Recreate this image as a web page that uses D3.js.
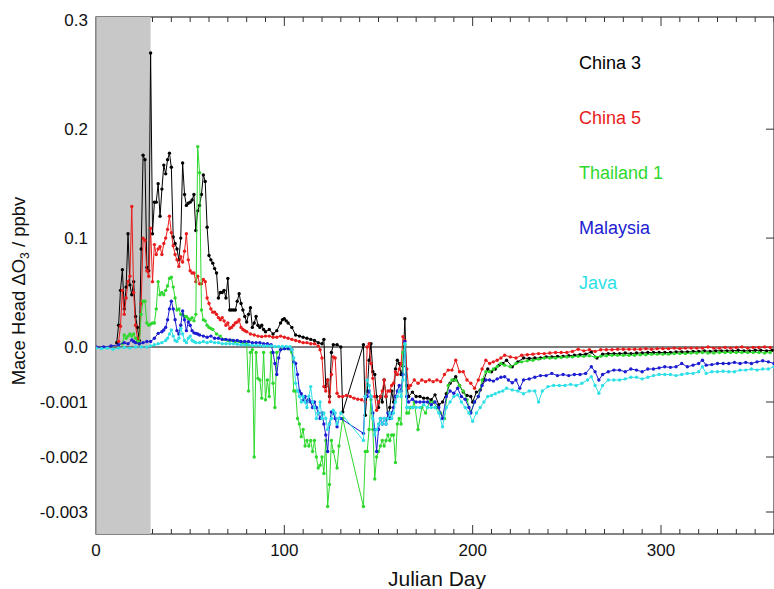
<!DOCTYPE html>
<html lang="en">
<head>
<meta charset="UTF-8">
<title>Mace Head ΔO3</title>
<script src="https://d3js.org/d3.v7.min.js"></script>
<style>
    body {
        margin: 0;
        background: white;
        font-family: Arial, "Liberation Sans", sans-serif;
    }
</style>
</head>
<body>
<div id="chart"></div>
<script>
// [julian day, ΔO3] pairs
const china3 = [[11,0.004],[12,0.02],[13,0.052],[14,0.071],[15,0.035],[16,0.055],[17,0.104],[18,0.057],[19,0.048],[20,0.06],[21,0.028],[22,0.018],[23,0.006],[24,0.09],[25,0.176],[26,0.172],[27,0.073],[28,0.07],[29,0.27],[30,0.104],[31,0.133],[32,0.133],[33,0.15],[34,0.12],[35,0.145],[36,0.167],[37,0.159],[38,0.172],[39,0.178],[40,0.165],[41,0.101],[42,0.095],[43,0.09],[44,0.08],[45,0.1],[46,0.169],[47,0.14],[48,0.13],[49,0.132],[50,0.133],[51,0.135],[52,0.14],[53,0.107],[54,0.125],[55,0.13],[56,0.14],[57,0.158],[58,0.152],[59,0.11],[60,0.084],[61,0.08],[62,0.077],[63,0.072],[64,0.068],[65,0.045],[66,0.05],[67,0.05],[68,0.052],[69,0.045],[70,0.063],[71,0.034],[72,0.034],[73,0.034],[74,0.034],[75,0.042],[76,0.049],[77,0.04],[78,0.034],[79,0.028],[80,0.023],[81,0.03],[82,0.036],[83,0.018],[84,0.022],[85,0.028],[86,0.02],[87,0.018],[88,0.02],[89,0.016],[90,0.014],[92,0.016],[94,0.012],[96,0.015],[98,0.022],[99,0.025],[100,0.026],[101,0.024],[102,0.022],[104,0.018],[106,0.011],[108,0.01],[110,0.009],[112,0.008],[114,0.007],[116,0.006],[118,0.004],[120,0.003],[121,0.007],
    [122,-0.00072],[123,-0.0006],[124,-0.0009],[125,-0.0001],[126,0.002],[128,0.002],[130,0.0],[131,-0.00118],[142,0.002],[143,-0.00124],[144,-0.0008],[145,-0.00024],[146,0.003],[147,-0.00045],[148,-0.0005],[149,-0.0009],[150,-0.0011],[151,-0.0009],[152,-0.001],[153,-0.0006],[154,-0.0009],[155,-0.0013],[156,-0.0011],[157,-0.0008],[158,-0.001],[159,-0.0004],[160,-0.00024],[161,-0.0003],[162,-0.0005],[163,-0.00035],[164,0.026],[165,-0.0007],[166,-0.0009],[168,-0.00082],[170,-0.0009],[172,-0.0009],[174,-0.00093],[176,-0.00093],[178,-0.00096],[180,-0.00087],[182,-0.00105],[184,-0.001],[186,-0.00085],[188,-0.00066],[190,-0.0006],[191,-0.00054],[193,-0.0007],[195,-0.00082],[197,-0.00088],[199,-0.0009],[200,-0.001],[202,-0.00082],[204,-0.00078],[206,-0.0006],[208,-0.0004],[210,-0.00045],[212,-0.0004],[214,-0.00033],[216,-0.0003],[218,-0.00024],[221,-0.00036],[224,-0.00027],[227,-0.0002],[230,-0.00021],[233,-0.0002],[236,-0.0002],[239,-0.00018],[242,-0.00018],[245,-0.00017],[248,-0.00017],[251,-0.00016],[254,-0.00015],[257,-0.00014],[260,-0.00013],[263,-0.00009],[266,-0.0002],[269,-0.00013],[272,-0.00012],[275,-0.00012],[278,-0.00012],[281,-0.00011],[284,-0.00012],[287,-0.00011],[290,-0.00011],[293,-0.0001],[296,-0.0001],[299,-0.0001],[302,-0.0001],[305,-0.0001],[308,-0.00009],[311,-0.00009],[314,-0.00009],[317,-0.00008],[320,-0.00008],[323,-0.00007],[326,-0.00008],[329,-0.00007],[332,-0.00007],[335,-0.00007],[338,-0.00007],[341,-0.00006],[344,-0.00007],[347,-0.00007],[350,-0.00006],[353,-0.00006],[356,-0.00007],[359,-0.00006]];

const china5 = [[12,0.005],[13,0.019],[14,0.052],[15,0.03],[16,0.045],[17,0.06],[18,0.065],[19,0.129],[20,0.05],[21,0.02],[22,0.008],[23,0.003],[24,0.04],[25,0.1],[26,0.098],[27,0.07],[28,0.065],[29,0.109],[30,0.06],[31,0.094],[32,0.085],[33,0.09],[34,0.092],[35,0.085],[36,0.095],[37,0.1],[38,0.108],[39,0.12],[40,0.105],[41,0.093],[42,0.085],[43,0.08],[44,0.074],[45,0.083],[46,0.078],[47,0.088],[48,0.104],[49,0.08],[50,0.07],[51,0.068],[52,0.068],[53,0.06],[54,0.065],[55,0.058],[56,0.058],[57,0.062],[58,0.06],[59,0.045],[60,0.04],[61,0.035],[62,0.032],[63,0.032],[64,0.03],[65,0.027],[66,0.025],[67,0.027],[68,0.024],[69,0.02],[70,0.022],[71,0.017],[72,0.018],[73,0.02],[74,0.022],[75,0.023],[76,0.025],[77,0.018],[78,0.016],[79,0.015],[80,0.014],[82,0.012],[84,0.011],[86,0.01],[88,0.0095],[90,0.01],[92,0.01],[94,0.009],[96,0.009],[98,0.01],[100,0.009],[102,0.008],[104,0.007],[106,0.006],[108,0.005],[110,0.004],[112,0.004],[114,0.003],[116,0.003],[118,0.001],
    [119,-0.00005],[120,-0.0002],[121,-0.00072],[122,-0.0008],[123,-0.0006],[124,-0.001],[125,-0.0005],[126,-0.00018],[127,-0.0002],[128,-0.00084],[129,-0.0009],[131,-0.0009],[133,-0.00088],[135,-0.0009],[137,-0.00093],[139,-0.00095],[141,-0.00096],[143,-0.001],[144,0.0],[145,0.003],[146,-0.0003],[147,-0.00057],[148,-0.0009],[149,-0.00115],[150,-0.001],[151,-0.0009],[152,-0.0008],[153,-0.0006],[154,-0.0009],[155,-0.0008],[156,-0.0008],[157,-0.0007],[158,-0.00066],[159,-0.00045],[160,-0.0005],[161,-0.0004],[162,-0.0003],[163,0.0095],[164,0.006],[165,-0.0004],[166,-0.00075],[167,-0.0007],[169,-0.0006],[171,-0.00066],[173,-0.0006],[175,-0.00063],[177,-0.0006],[179,-0.00063],[181,-0.0006],[183,-0.00063],[185,-0.0005],[187,-0.00042],[189,-0.00042],[191,-0.00024],[193,-0.00045],[195,-0.00045],[197,-0.0006],[199,-0.00066],[201,-0.00075],[203,-0.0006],[205,-0.0004],[207,-0.00024],[209,-0.0003],[211,-0.00027],[213,-0.00024],[215,-0.0002],[217,-0.00015],[220,-0.00018],[223,-0.0002],[226,-0.00015],[229,-0.00014],[232,-0.00013],[235,-0.00012],[238,-0.00012],[241,-0.00011],[244,-0.0001],[247,-0.0001],[250,-0.0001],[253,-0.00008],[256,-0.00004],[259,-0.00007],[262,-0.00005],[265,-0.00008],[268,-0.00005],[271,-0.00005],[274,-0.00005],[277,-0.00004],[280,-0.00004],[283,-0.00004],[286,-0.00004],[289,-0.00004],[292,-0.00003],[295,-0.00004],[298,-0.00003],[301,-0.00003],[304,-0.00003],[307,-0.00002],[310,-0.00003],[313,-0.00002],[316,-0.00002],[319,-0.00002],[322,-0.00002],[325,0.0],[328,-0.00002],[331,-0.00002],[334,-0.00001],[337,-0.00002],[340,-0.00001],[343,0.0],[346,-0.00002],[349,-0.00001],[352,-0.00001],[355,0.0],[358,-0.00001]];

const thailand1 = [[14,0.003],[15,0.011],[16,0.008],[17,0.01],[18,0.012],[19,0.01],[20,0.012],[21,0.008],[22,0.005],[23,0.003],[24,0.03],[25,0.042],[26,0.042],[27,0.022],[28,0.02],[29,0.021],[30,0.022],[31,0.022],[32,0.035],[33,0.06],[34,0.048],[35,0.05],[36,0.048],[37,0.052],[38,0.056],[39,0.063],[40,0.064],[41,0.055],[42,0.045],[43,0.034],[44,0.035],[45,0.03],[46,0.03],[47,0.028],[48,0.028],[49,0.026],[50,0.025],[51,0.027],[52,0.024],[53,0.03],[54,0.184],[55,0.16],[56,0.034],[57,0.025],[58,0.024],[59,0.02],[60,0.018],[61,0.017],[62,0.016],[64,0.012],[66,0.01],[68,0.007],[70,0.006],[72,0.006],[74,0.005],[76,0.005],[78,0.004],[80,0.003],
    [81,-0.0008],[82,-0.0001],[83,-0.00005],[84,-0.002],[85,-0.0001],[86,-0.00057],[87,-0.0006],[88,-0.00093],[89,-0.0001],[90,-0.00096],[91,-0.0006],[92,-0.0009],[93,-0.0001],[94,-0.00066],[95,-0.0011],[96,-0.0001],[98,-0.00005],[100,-0.00003],[102,-0.00003],[104,-0.0001],[105,-0.0008],[106,-0.0008],[107,-0.0013],[108,-0.0014],[109,-0.00163],[110,-0.0015],[111,-0.0018],[112,-0.0017],[113,-0.0018],[114,-0.0017],[115,-0.0019],[116,-0.0017],[117,-0.002],[118,-0.0022],[119,-0.00215],[120,-0.002],[121,-0.0023],[122,-0.0017],[123,-0.0029],[124,-0.0025],[125,-0.0017],[126,-0.0019],[128,-0.0022],[129,-0.0018],[131,-0.0013],[142,-0.0029],[143,-0.0019],[144,-0.0019],[145,-0.0015],[146,-0.00096],[147,-0.0015],[148,-0.0024],[149,-0.002],[150,-0.0019],[151,-0.0018],[152,-0.0017],[153,-0.0018],[154,-0.0017],[155,-0.0016],[156,-0.0017],[157,-0.0016],[158,-0.0016],[159,-0.0021],[160,-0.0014],[161,-0.0013],[162,-0.0014],[163,-0.0001],[164,0.002],[165,-0.0012],[166,-0.0012],[167,-0.0011],[168,-0.0011],[169,-0.001],[171,-0.0015],[173,-0.0011],[175,-0.0012],[177,-0.001],[179,-0.001],[181,-0.0011],[183,-0.0012],[185,-0.0013],[187,-0.0007],[189,-0.0006],[191,-0.0006],[193,-0.0007],[195,-0.0008],[197,-0.00096],[199,-0.00118],[201,-0.001],[203,-0.0009],[205,-0.0006],[207,-0.00045],[209,-0.00045],[211,-0.0004],[213,-0.00036],[215,-0.0003],[217,-0.00033],[220,-0.00036],[223,-0.0003],[226,-0.00027],[229,-0.00025],[232,-0.00024],[235,-0.00022],[238,-0.0002],[241,-0.0002],[244,-0.0002],[247,-0.00019],[250,-0.00018],[253,-0.00018],[256,-0.00017],[259,-0.00017],[262,-0.00016],[265,-0.00018],[268,-0.00017],[271,-0.00016],[274,-0.00015],[277,-0.00015],[280,-0.00015],[283,-0.00015],[286,-0.00015],[289,-0.00014],[292,-0.00014],[295,-0.00013],[298,-0.00013],[301,-0.00013],[304,-0.00013],[307,-0.00012],[310,-0.00012],[313,-0.00012],[316,-0.00011],[319,-0.00011],[322,-0.0001],[325,-0.00011],[328,-0.00011],[331,-0.0001],[334,-0.0001],[337,-0.0001],[340,-0.0001],[343,-0.0001],[346,-0.0001],[349,-0.0001],[352,-0.0001],[355,-0.00011],[358,-0.0001]];

const malaysia = [[0,0.0],[4,0.0],[8,0.001],[12,0.002],[15,0.004],[17,0.003],[19,0.0065],[20,0.005],[21,0.004],[23,0.003],[25,0.004],[27,0.005],[29,0.005],[31,0.008],[33,0.0125],[35,0.014],[36,0.0156],[37,0.018],[38,0.025],[39,0.035],[40,0.042],[41,0.035],[42,0.025],[43,0.015],[44,0.012],[45,0.02],[46,0.033],[47,0.025],[48,0.015],[49,0.023],[50,0.02],[51,0.015],[52,0.013],[53,0.0125],[54,0.012],[55,0.011],[57,0.01],[59,0.009],[61,0.01],[63,0.008],[65,0.008],[67,0.007],[69,0.007],[71,0.0064],[73,0.006],[75,0.006],[77,0.005],[79,0.005],[81,0.005],[83,0.004],[85,0.004],[87,0.004],[89,0.003],[91,0.003],[93,0.002],
    [94,-0.0001],[95,-0.0003],[96,-0.0005],[97,-0.0002],[98,-0.00005],[100,-0.00003],[102,-0.00003],[104,-0.00005],[105,-0.00027],[106,-0.0003],[107,-0.0005],[108,-0.0008],[109,-0.00085],[110,-0.00096],[111,-0.0009],[112,-0.001],[113,-0.00095],[114,-0.001],[115,-0.0011],[116,-0.001],[117,-0.0011],[118,-0.0012],[119,-0.0013],[120,-0.0012],[121,-0.0014],[122,-0.0016],[123,-0.0019],[124,-0.0014],[125,-0.00118],[126,-0.0012],[127,-0.0013],[128,-0.00145],[129,-0.0013],[130,-0.0013],[142,-0.00157],[143,-0.0009],[144,-0.0009],[145,-0.0008],[146,-0.0009],[147,-0.0012],[148,-0.0015],[149,-0.0019],[150,-0.0015],[151,-0.0013],[152,-0.0014],[153,-0.0013],[154,-0.0014],[155,-0.0012],[156,-0.0013],[157,-0.0012],[158,-0.0011],[159,-0.0009],[160,-0.0008],[161,-0.0007],[162,-0.0008],[163,-0.0005],[164,0.005],[165,-0.0009],[166,-0.001],[168,-0.00095],[170,-0.001],[172,-0.001],[174,-0.001],[176,-0.001],[178,-0.00105],[180,-0.001],[182,-0.0011],[184,-0.0013],[186,-0.0009],[188,-0.0008],[190,-0.00084],[192,-0.00075],[194,-0.0009],[196,-0.00095],[198,-0.0011],[199,-0.0012],[201,-0.001],[203,-0.0009],[205,-0.0007],[207,-0.0006],[209,-0.0006],[211,-0.00062],[213,-0.00058],[215,-0.00055],[217,-0.00054],[219,-0.0006],[221,-0.00065],[223,-0.0006],[225,-0.00075],[227,-0.0006],[230,-0.00058],[233,-0.00055],[236,-0.00052],[239,-0.00052],[242,-0.00048],[245,-0.00052],[248,-0.0005],[251,-0.00052],[254,-0.0005],[257,-0.0005],[260,-0.00048],[263,-0.00036],[265,-0.00045],[267,-0.0006],[269,-0.0005],[272,-0.00045],[275,-0.00042],[278,-0.00042],[281,-0.00045],[284,-0.0004],[287,-0.00042],[290,-0.00045],[293,-0.0004],[296,-0.0004],[299,-0.00038],[302,-0.00036],[305,-0.00037],[308,-0.00036],[311,-0.0003],[314,-0.00036],[317,-0.00033],[320,-0.0003],[322,-0.00024],[324,-0.00033],[327,-0.00032],[330,-0.0003],[333,-0.0003],[336,-0.0003],[339,-0.00028],[342,-0.0003],[345,-0.00028],[348,-0.0003],[351,-0.00027],[354,-0.00025],[357,-0.00027],[360,-0.0003]];

const java = [[0,-0.00002],[3,-0.00003],[6,-0.00002],[9,-0.00004],[12,-0.00002],[15,-0.00001],[18,-0.00002],[21,0.0],[24,0.0],[27,0.0],[29,0.001],[31,0.002],[33,0.003],[35,0.004],[37,0.006],[38,0.008],[39,0.012],[40,0.0156],[41,0.01],[42,0.006],[43,0.005],[44,0.008],[45,0.017],[46,0.012],[47,0.006],[48,0.004],[49,0.008],[50,0.01],[51,0.006],[52,0.005],[53,0.004],[55,0.004],[57,0.005],[59,0.004],[61,0.005],[63,0.004],[65,0.004],[67,0.003],[69,0.003],[71,0.003],[73,0.003],[75,0.0025],[77,0.002],[79,0.002],[81,0.002],[83,0.0015],[85,0.0015],[87,0.0015],[89,0.001],[91,0.001],[93,0.001],[95,0.0005],[97,0.0005],[99,0.0005],[101,0.0005],[103,0.0003],
    [104,-0.00005],[105,-0.0002],[106,-0.00066],[107,-0.0008],[108,-0.0009],[109,-0.001],[110,-0.0009],[111,-0.001],[112,-0.0011],[113,-0.0009],[114,-0.00072],[115,-0.001],[116,-0.0011],[117,-0.0013],[118,-0.0012],[119,-0.001],[120,-0.0013],[121,-0.0012],[122,-0.0013],[123,-0.0015],[124,-0.0014],[125,-0.0013],[126,-0.00115],[127,-0.0012],[128,-0.0014],[129,-0.0013],[130,-0.0012],[142,-0.0017],[143,-0.0009],[144,-0.0006],[145,-0.0007],[146,-0.0009],[147,-0.0013],[148,-0.0016],[149,-0.0015],[150,-0.0014],[151,-0.0013],[152,-0.0014],[153,-0.0013],[154,-0.0014],[155,-0.0013],[156,-0.0012],[157,-0.0013],[158,-0.0012],[159,-0.001],[160,-0.0009],[161,-0.0008],[162,-0.0009],[163,-0.0006],[164,0.003],[165,-0.0011],[166,-0.0011],[168,-0.0011],[170,-0.0011],[172,-0.0011],[174,-0.00105],[176,-0.0011],[178,-0.0011],[180,-0.0011],[182,-0.0012],[184,-0.00145],[186,-0.0011],[188,-0.001],[190,-0.0009],[192,-0.00087],[194,-0.001],[196,-0.0011],[198,-0.0012],[200,-0.00135],[202,-0.0012],[204,-0.0011],[206,-0.001],[208,-0.0009],[210,-0.00088],[212,-0.00085],[214,-0.00082],[216,-0.0008],[218,-0.00075],[221,-0.00078],[224,-0.0008],[227,-0.00085],[230,-0.0008],[233,-0.0008],[235,-0.001],[237,-0.0008],[240,-0.00072],[243,-0.0007],[246,-0.0007],[249,-0.0007],[252,-0.00068],[255,-0.0007],[258,-0.00066],[261,-0.0006],[263,-0.00054],[265,-0.0007],[267,-0.00084],[269,-0.0007],[272,-0.0006],[275,-0.0006],[278,-0.0006],[281,-0.00058],[284,-0.00055],[287,-0.00055],[290,-0.00058],[293,-0.00055],[296,-0.00052],[299,-0.0005],[302,-0.0005],[305,-0.0005],[308,-0.00052],[311,-0.0005],[314,-0.00048],[317,-0.00048],[320,-0.00045],[322,-0.00036],[324,-0.00048],[327,-0.00045],[330,-0.00045],[333,-0.00044],[336,-0.00045],[339,-0.00045],[342,-0.00042],[345,-0.00042],[348,-0.0004],[351,-0.00042],[354,-0.0004],[357,-0.0004],[360,-0.00036]];

const seriesNames = ["China 3", "China 5", "Thailand 1", "Malaysia", "Java"];
const seriesData = [china3, china5, thailand1, malaysia, java];
const seriesColors = ["#000000", "#e81c1c", "#2ed82e", "#1c1cd0", "#2ee0e6"];

const yTickValues = [0.3, 0.2, 0.1, 0.0, -0.001, -0.002, -0.003];
const yTickLabels = ["0.3", "0.2", "0.1", "0.0", "-0.001", "-0.002", "-0.003"];
const xTickValues = [0, 100, 200, 300];
const spinUpEnd = 29;   // grey shaded spin-up period (days)

const width = 774, height = 589;

const x = d3.scaleLinear().domain([0, 360]).range([96, 774]);
// split axis: positive part in 0..0.3, negative part in -0.0034..0
const y = d3.scaleLinear().domain([-0.0034, 0, 0.303]).range([534, 347, 17]);

const svg = d3.select("#chart").append("svg")
    .attr("width", width)
    .attr("height", height);

const x0 = x.range()[0], x1 = x.range()[1];
const yTop = y(0.303), yBot = y(-0.0034);

// frame
svg.append("rect")
    .attr("x", x0).attr("y", yTop)
    .attr("width", x1 - x0).attr("height", yBot - yTop)
    .attr("fill", "none").attr("stroke", "#333").attr("stroke-width", 1.2);

// minor/major ticks on top and bottom, pointing inward
const dayTicks = d3.range(10, 361, 10);
svg.append("g").selectAll("line")
    .data(dayTicks)
    .join("line")
    .attr("x1", d => x(d)).attr("x2", d => x(d))
    .attr("y1", yBot).attr("y2", d => yBot - (d % 100 === 0 ? 9 : 5))
    .attr("stroke", "#333");
svg.append("g").selectAll("line")
    .data(dayTicks)
    .join("line")
    .attr("x1", d => x(d)).attr("x2", d => x(d))
    .attr("y1", yTop).attr("y2", d => yTop + (d % 100 === 0 ? 9 : 5))
    .attr("stroke", "#333");

// right side ticks
svg.append("g").selectAll("line")
    .data(yTickValues.filter(d => d !== 0.3 && d !== 0))
    .join("line")
    .attr("x1", x1).attr("x2", x1 - 8)
    .attr("y1", d => y(d)).attr("y2", d => y(d))
    .attr("stroke", "#333");

// shaded spin-up period
svg.append("rect")
    .attr("x", x0).attr("y", yTop)
    .attr("width", x(spinUpEnd) - x0).attr("height", yBot - yTop)
    .attr("fill", "#c8c8c8");
svg.append("line")
    .attr("x1", x0).attr("x2", x0).attr("y1", yTop).attr("y2", yBot)
    .attr("stroke", "#8a8a8a").attr("stroke-width", 1.2);

// zero line
svg.append("line")
    .attr("x1", x0).attr("x2", x1).attr("y1", y(0)).attr("y2", y(0))
    .attr("stroke", "#555").attr("stroke-width", 1.5);

// tick labels
svg.append("g").selectAll("text")
    .data(yTickValues)
    .join("text")
    .attr("x", 88)
    .attr("y", d => y(d) + 6)
    .attr("text-anchor", "end")
    .attr("font-size", 17)
    .attr("fill", "#111")
    .text((d, i) => yTickLabels[i]);

svg.append("g").selectAll("text")
    .data(xTickValues)
    .join("text")
    .attr("x", d => x(d))
    .attr("y", 556)
    .attr("text-anchor", "middle")
    .attr("font-size", 17)
    .attr("fill", "#111")
    .text(d => d);

// axis titles
svg.append("text")
    .attr("x", 437).attr("y", 586)
    .attr("text-anchor", "middle")
    .attr("font-size", 21)
    .attr("fill", "#111")
    .text("Julian Day");

const yTitle = svg.append("text")
    .attr("transform", "translate(25,291) rotate(-90)")
    .attr("text-anchor", "middle")
    .attr("font-size", 18.5)
    .attr("fill", "#111");
yTitle.append("tspan").text("Mace Head ΔO");
yTitle.append("tspan").attr("font-size", 12).attr("dy", 4).text("3");
yTitle.append("tspan").attr("dy", -4).text(" / ppbv");

// series
svg.append("clipPath").attr("id", "plotClip")
    .append("rect")
    .attr("x", x0).attr("y", yTop)
    .attr("width", x1 - x0).attr("height", yBot - yTop);

const plot = svg.append("g").attr("clip-path", "url(#plotClip)");
const line = d3.line().x(d => x(d[0])).y(d => y(d[1]));

seriesData.forEach((data, i) => {
    const g = plot.append("g");
    g.append("path")
        .datum(data)
        .attr("d", line)
        .attr("fill", "none")
        .attr("stroke", seriesColors[i])
        .attr("stroke-width", 1);
    g.selectAll("circle")
        .data(data)
        .join("circle")
        .attr("cx", d => x(d[0]))
        .attr("cy", d => y(d[1]))
        .attr("r", 1.7)
        .attr("fill", seriesColors[i]);
});

// legend
svg.append("g").selectAll("text")
    .data(seriesNames)
    .join("text")
    .attr("x", 579)
    .attr("y", (d, i) => 69 + i * 55)
    .attr("font-size", 18)
    .attr("fill", (d, i) => seriesColors[i])
    .text(d => d);
</script>
</body>
</html>
